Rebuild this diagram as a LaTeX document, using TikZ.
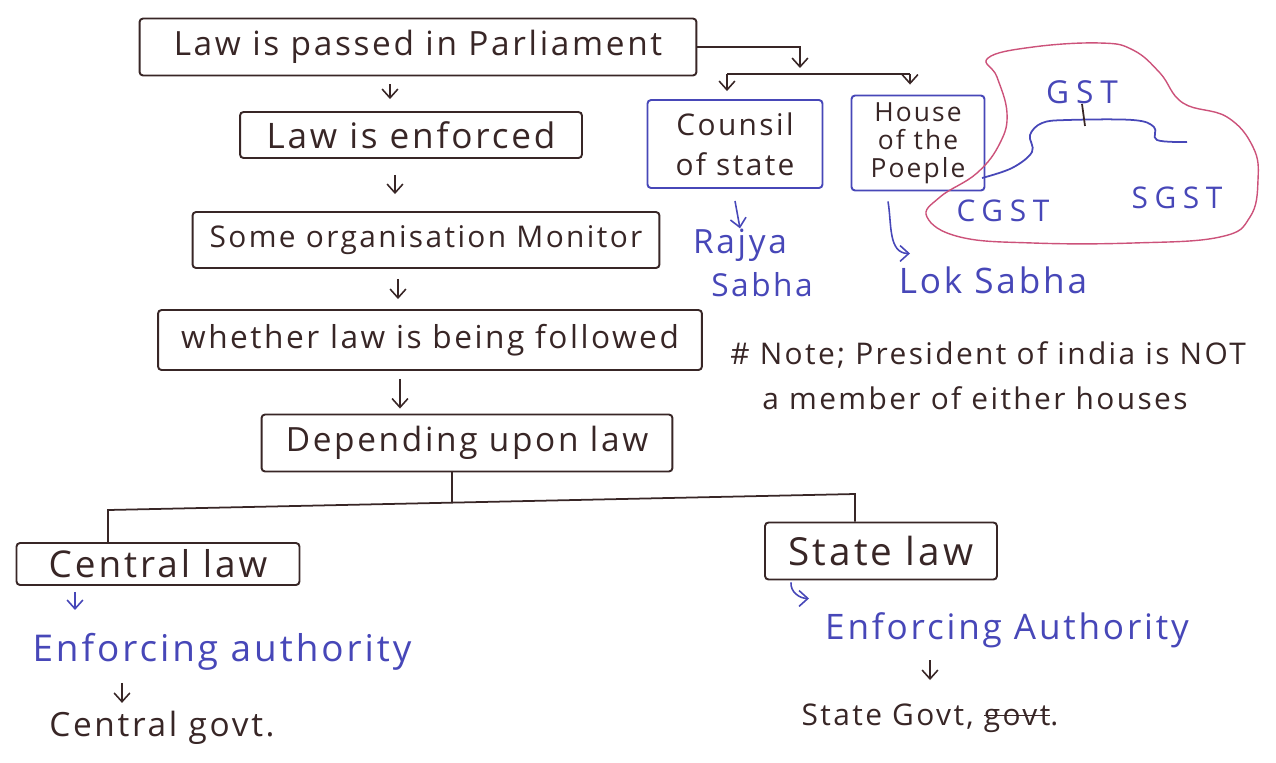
\documentclass[tikz,border=0pt]{standalone}
\usepackage{fontspec}
\setmainfont{Open Sans}[LetterSpace=8]
\usepackage{tikz}
\usetikzlibrary{positioning, calc, arrows.meta}
\definecolor{inkbrown}{rgb}{0.22, 0.15, 0.15}
\definecolor{inkblue}{rgb}{0.28, 0.28, 0.72}
\definecolor{cloudpink}{rgb}{0.80, 0.32, 0.48}
\newcommand{\crossout}[1]{\setbox0\hbox{#1}\rlap{\rule[0.3em]{\wd0}{0.9pt}}\box0}
\tikzset{
  hs/.style={font=\fontsize{#1}{#1}\selectfont},
  wide/.style={font=\fontsize{#1}{#1}\selectfont\addfontfeatures{LetterSpace=22}},
  lawbox/.style={draw=inkbrown, line width=1.1pt, rounded corners=2pt, text=inkbrown, inner sep=0pt},
  housebox/.style={lawbox, draw=inkblue},
  inkline/.style={inkbrown, line width=1pt},
  inkarrow/.style={-{Straight Barb[length=5pt, width=9pt]}, inkbrown, line width=0.9pt},
  bluearrow/.style={inkarrow, inkblue},
  bluetxt/.style={text=inkblue, inner sep=0pt},
  blacktxt/.style={text=inkbrown, inner sep=0pt},
}

\begin{document}
\begin{tikzpicture}[x=0.02cm, y=-0.02cm]
\useasboundingbox (0,0) rectangle (1276,762);

%% main chain of boxes
\node[lawbox, minimum width=11.14cm, minimum height=1.14cm, hs=19] (parl) at (418,47) {Law is passed in Parliament};
\node[lawbox, minimum width=6.84cm, minimum height=0.92cm, hs=20] (enforced) at (411,135) {Law is enforced};
\node[lawbox, minimum width=9.34cm, minimum height=1.12cm, hs=17] (monitor) at (426,240) {Some organisation Monitor};
\node[lawbox, minimum width=10.88cm, minimum height=1.2cm, hs=18] (followed) at (430,340) {whether law is being followed};
\node[lawbox, minimum width=8.22cm, minimum height=1.14cm, hs=19] (depend) at (467,443) {Depending upon law};
\node[lawbox, minimum width=5.66cm, minimum height=0.84cm, hs=21] (central) at (158,564) {Central law};
\node[lawbox, minimum width=4.64cm, minimum height=1.14cm, hs=22] (state) at (881,551) {State law};

\draw[inkarrow] ($(parl.south)+(-28,8)$) -- ($(enforced.north)+(-21,-12)$);
\draw[inkarrow] ($(enforced.south)+(-16,16)$) -- ($(monitor.north)+(-31,-17)$);
\draw[inkarrow] ($(monitor.south)+(-28,10)$) -- ($(followed.north)+(-32,-10)$);
\draw[inkarrow] ($(followed.south)+(-30,8)$) -- ($(depend.north)+(-67,-5)$);

%% the two houses
\node[housebox, minimum width=3.5cm, minimum height=1.76cm, align=center, font=\fontsize{17}{23}\selectfont] (council) at (735,144) {Counsil\\of state};
\node[housebox, minimum width=2.66cm, minimum height=1.9cm, align=center, font=\fontsize{15}{16}\selectfont] (house) at (918,143) {House\\of the\\Poeple};

\coordinate (fork) at (800,74);
\draw[inkarrow] (parl.east) -| ($(fork)+(0,-6)$);
\draw[inkline] ($(council.north |- fork)+(-8,0)$) -- ($(house.north |- fork)+(-8,0)$);
\draw[inkarrow] ($(council.north |- fork)+(-8,0)$) -- ($(council.north)+(-8,-8)$);
\draw[inkarrow] ($(house.north |- fork)+(-8,0)$) -- ($(house.north)+(-8,-10)$);

\node[bluetxt, hs=19] (rajya) at (740,245) {Rajya};
\node[bluetxt, hs=18] (rsabha) at (762,285) {Sabha};
\node[bluetxt, hs=20] (lok) at (993,280) {Lok Sabha};
\draw[bluearrow] ($(council.south)+(0,12)$) -- (rajya.north);
\draw[bluearrow] ($(house.south)+(-30,10)$) to[out=-80, in=180] ($(house.south)+(-8,62)$);

%% GST cloud
\draw[cloudpink, line width=0.8pt] plot[smooth cycle, tension=0.7] coordinates {
  (988,58) (1033,47) (1100,43) (1133,50) (1160,73) (1183,103) (1227,117)
  (1253,147) (1258,180) (1250,217) (1220,237) (1133,243) (1033,243)
  (960,237) (927,217) (940,197) (977,173) (1000,143) (1007,113) (997,77)};
\draw[inkblue, line width=1pt] plot[smooth, tension=0.6] coordinates {
  (982,178) (1012,168) (1032,152) (1030,135) (1042,123) (1067,120)
  (1133,120) (1154,127) (1157,140) (1187,142)};
\node[bluetxt, wide=18] (gst) at (1082,92) {GST};
\node[bluetxt, wide=17] (cgst) at (1003,211) {CGST};
\node[bluetxt, wide=17] (sgst) at (1177,198) {SGST};
\draw[inkline] (gst.south) -- ++(3,22);

%% note
\node[blacktxt, hs=17, anchor=west] (note1) at (730,355) {\# Note; President of india is NOT};
\node[blacktxt, hs=17, anchor=west] (note2) at (762,398) {a member of either houses};

%% split into central and state law
\coordinate (fork2) at (452,502);
\coordinate (cleft) at (108,510);
\coordinate (cright) at (855,494);
\draw[inkline] (depend.south -| fork2) -- (fork2);
\draw[inkline] (central.north -| cleft) -- (cleft) -- (cright) -- (state.north -| cright);

%% central side
\node[bluetxt, hs=21] (enfleft) at (222,652) {Enforcing authority};
\node[blacktxt, hs=19] (cgovt) at (162,728) {Central govt.};
\draw[bluearrow] ($(central.south)+(-83,6)$) -- ++(0,18);
\draw[inkarrow] ($(enfleft.south)+(-100,12)$) -- ++(0,20);

%% state side
\node[bluetxt, hs=20] (enfright) at (1007,630) {Enforcing Authority};
\node[blacktxt, hs=17] (sgovt) at (930,718) {State Govt, \crossout{govt}.};
\draw[bluearrow] ($(state.south)+(-90,2)$) to[out=-95, in=180] ++(18,16);
\draw[inkarrow] ($(enfright.south)+(-77,12)$) -- ++(0,20);
\end{tikzpicture}
\end{document}
